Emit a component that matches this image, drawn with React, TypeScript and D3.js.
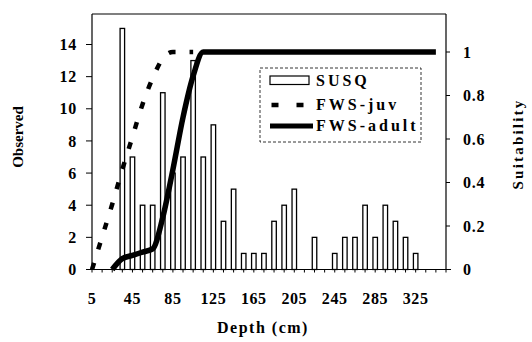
import React from "react";
import * as d3 from "d3";

const categories: number[] = d3.range(5, 356, 10);
const susq: number[] = [0, 0, 0, 15, 7, 4, 4, 11, 6, 7, 13, 7, 9, 3, 5, 1, 1, 1, 3, 4, 5, 0, 2, 0, 1, 2, 2, 4, 2, 4, 3, 2, 1, 0, 0, 0];
const juvDepths: number[] = [5, 15, 25, 35, 45, 55, 65, 75, 85, 95, 105];
const juvValues: number[] = [0, 0.15, 0.3, 0.46, 0.61, 0.76, 0.88, 0.97, 1, 1, 1];
const adultDepths: number[] = d3.range(25, 346, 10);
const adultValues: number[] = [0, 0.05, 0.065, 0.08, 0.095, 0.24, 0.46, 0.7, 0.89, 1, 1, 1, 1, 1, 1, 1, 1, 1, 1, 1, 1, 1, 1, 1, 1, 1, 1, 1, 1, 1, 1, 1, 1];
const xTickLabels: number[] = [5, 45, 85, 125, 165, 205, 245, 285, 325];
const leftTicks: number[] = [0, 2, 4, 6, 8, 10, 12, 14];
const rightTicks: number[] = [0, 0.2, 0.4, 0.6, 0.8, 1];
const legendItems: string[] = ["SUSQ", "FWS-juv", "FWS-adult"];

const FONT = "'Liberation Serif', 'Times New Roman', serif";

export default function App() {
  const left = 92, right = 446, top = 14, base = 269.5;
  const x = d3.scalePoint<number>().domain(categories).range([left, right]);
  const yL = d3.scaleLinear().domain([0, 14]).range([base, 44.5]);
  const yR = d3.scaleLinear().domain([0, 1]).range([base, 52]);
  const barW = 4.5;

  const juvLine = d3
    .line<number>()
    .x((_, i) => x(juvDepths[i])!)
    .y((d) => yR(d))
    .curve(d3.curveMonotoneX);
  const adultLine = d3
    .line<number>()
    .x((_, i) => x(adultDepths[i])!)
    .y((d) => yR(d))
    .curve(d3.curveMonotoneX);

  const tickText = { fontFamily: FONT, fontWeight: 700, fontSize: 16, fill: "#000" } as const;

  return (
    <svg
      width={532}
      height={342}
      style={{ position: "absolute", left: 0, top: 0, background: "#fff" }}
    >
      {/* bars */}
      {susq.map((v, i) =>
        v > 0 ? (
          <rect
            key={i}
            x={x(categories[i])! - barW / 2}
            y={yL(v)}
            width={barW}
            height={base - yL(v)}
            fill="#fff"
            stroke="#000"
            strokeWidth={1.3}
          />
        ) : null
      )}
      {/* lines */}
      <path d={juvLine(juvValues) || ""} fill="none" stroke="#000" strokeWidth={4.5} strokeDasharray="7 14" />
      <path d={adultLine(adultValues) || ""} fill="none" stroke="#000" strokeWidth={5.5} />

      {/* frame / axes */}
      <line x1={left} x2={right} y1={top} y2={top} stroke="#000" strokeWidth={1.2} />
      <line x1={left} x2={left} y1={top} y2={base} stroke="#000" strokeWidth={1.2} />
      <line x1={right} x2={right} y1={top} y2={base} stroke="#000" strokeWidth={1.2} />
      <line x1={86} x2={451} y1={base} y2={base} stroke="#000" strokeWidth={1.2} />
      {categories.map((c) => (
        <line key={c} x1={x(c)} x2={x(c)} y1={base} y2={base + 3} stroke="#000" strokeWidth={1} />
      ))}
      {leftTicks.map((t) => (
        <g key={t}>
          <line x1={86} x2={left} y1={yL(t)} y2={yL(t)} stroke="#000" strokeWidth={1} />
          <text x={77} y={yL(t)} dy="0.35em" textAnchor="end" {...tickText} letterSpacing={0.8}>
            {t}
          </text>
        </g>
      ))}
      {rightTicks.map((t) => (
        <g key={t}>
          <line x1={right} x2={right + 4} y1={yR(t)} y2={yR(t)} stroke="#000" strokeWidth={1} />
          <text x={463} y={yR(t)} dy="0.35em" textAnchor="start" {...tickText} letterSpacing={0.8}>
            {t}
          </text>
        </g>
      ))}
      {xTickLabels.map((t) => (
        <text key={t} x={x(t)} y={304} textAnchor="middle" {...tickText} letterSpacing={0.6}>
          {t}
        </text>
      ))}

      {/* axis titles */}
      <text x={263} y={333} textAnchor="middle" {...tickText} letterSpacing={1.5}>
        Depth (cm)
      </text>
      <text transform="translate(23,137) rotate(-90)" textAnchor="middle" {...tickText} fontSize={15}>
        Observed
      </text>
      <text transform="translate(523,144) rotate(-90)" textAnchor="middle" {...tickText} fontSize={15} letterSpacing={2.2}>
        Suitability
      </text>

      {/* legend */}
      <rect x={260} y={68} width={161} height={74} fill="#fff" stroke="#000" strokeWidth={0.8} strokeDasharray="3 2" />
      <rect x={270} y={76} width={39} height={8.5} fill="#fff" stroke="#000" strokeWidth={1.2} />
      <line x1={271.5} x2={304} y1={105} y2={105} stroke="#000" strokeWidth={4.5} strokeDasharray="7 18" />
      <line x1={270} x2={313} y1={126} y2={126} stroke="#000" strokeWidth={5} />
      {legendItems.map((s, i) => (
        <text key={s} x={316} y={[86, 110, 131][i]} {...tickText} letterSpacing={3}>
          {s}
        </text>
      ))}
    </svg>
  );
}
